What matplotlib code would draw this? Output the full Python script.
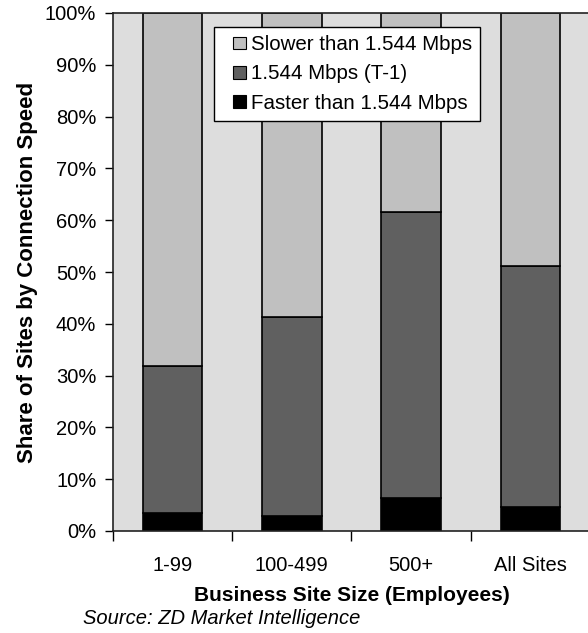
import numpy as np
import matplotlib.pyplot as plt
from matplotlib.ticker import FuncFormatter
from matplotlib.patches import Patch, Rectangle
from matplotlib.legend_handler import HandlerBase

plt.rcParams['font.family'] = ['Liberation Sans', 'DejaVu Sans']

# Share of sites (%) by connection speed, per business site size
sizes = ['1-99', '100-499', '500+', 'All Sites']
faster = [3.5, 2.9, 6.3, 4.7]
t1 = [28.4, 38.5, 55.3, 46.5]
slower = [68.1, 58.6, 38.4, 48.8]

series_names = ['Faster than 1.544 Mbps', '1.544 Mbps (T-1)', 'Slower than 1.544 Mbps']
colors = ['#000000', '#606060', '#C0C0C0']


class SquareHandler(HandlerBase):
    # small square swatch pushed to the right end of the handle box
    def create_artists(self, legend, orig_handle, xdescent, ydescent,
                       width, height, fontsize, trans):
        s = 0.62 * fontsize
        r = Rectangle((-xdescent + width - s, -ydescent + (height - s) / 2), s, s,
                      facecolor=orig_handle.get_facecolor(), edgecolor='black',
                      linewidth=0.8, transform=trans)
        return [r]


fig = plt.figure(figsize=(5.88, 6.33), dpi=100)
ax = fig.add_axes([113 / 588, 102 / 633, 477 / 588, 518 / 633])
ax.set_facecolor('#DDDDDD')

x = np.arange(len(sizes))
w = 0.5
bottom = np.zeros(len(sizes))
for vals, name, c in zip([faster, t1, slower], series_names, colors):
    ax.bar(x, vals, w, bottom=bottom, color=c, edgecolor='black', linewidth=1.2,
           label=name)
    bottom += vals

ax.set_xlim(-0.5, len(sizes) - 0.5)
ax.set_ylim(0, 100)
ax.set_yticks(np.arange(0, 101, 10))
ax.yaxis.set_major_formatter(FuncFormatter(lambda v, p: f'{v:.0f}%'))
# group boundaries get the tick marks, category names sit between them
ax.set_xticks(np.arange(len(sizes) + 1) - 0.5)
ax.set_xticklabels([])
ax.set_xticks(x, minor=True)
ax.set_xticklabels(sizes, minor=True)
ax.tick_params(axis='x', which='minor', length=0, pad=18, labelsize=14.5)
ax.tick_params(axis='x', which='major', direction='out', length=7, width=1)
ax.tick_params(axis='y', direction='out', length=6, width=1, labelsize=14.5, pad=6)

for s in ax.spines.values():
    s.set_linewidth(1.2)
    s.set_color('#222222')

ax.set_ylabel('Share of Sites by Connection Speed', fontsize=16, fontweight='bold',
              labelpad=5)
ax.set_xlabel('Business Site Size (Employees)', fontsize=15, fontweight='bold',
              labelpad=8)

handles = [Patch(facecolor=c) for c in colors[::-1]]
leg = ax.legend(handles, series_names[::-1], loc='upper left',
                bbox_to_anchor=(0.212, 0.973), fontsize=14.8, frameon=True,
                fancybox=False, edgecolor='black', framealpha=1,
                handler_map={Patch: SquareHandler()},
                handlelength=1.15, handleheight=0.7, handletextpad=0.25,
                labelspacing=0.5, borderpad=0.4, borderaxespad=0)
leg.get_frame().set_linewidth(1.0)

fig.text(83 / 588, 1 - 619 / 633, 'Source: ZD Market Intelligence',
         fontsize=14.5, style='italic', va='center', ha='left')

fig.savefig('out.png', dpi=100)
